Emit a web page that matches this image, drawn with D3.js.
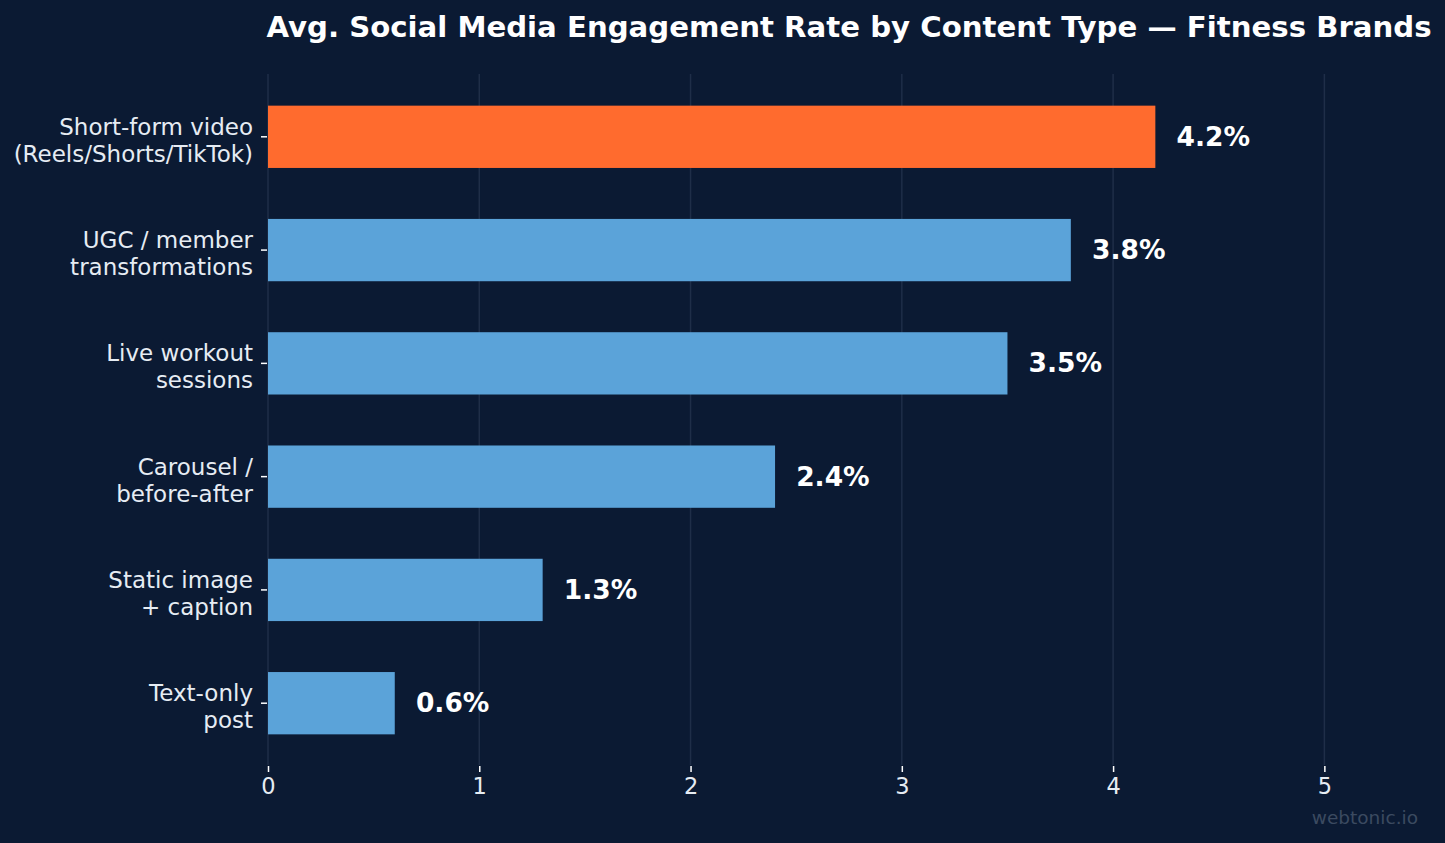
<!DOCTYPE html>
<html>
<head>
<meta charset="utf-8">
<script src="https://cdn.jsdelivr.net/npm/d3@7"></script>
<style>
  html, body { margin: 0; padding: 0; background: #0b1a33; }
  svg { display: block; font-family: "DejaVu Sans", sans-serif; }
</style>
</head>
<body>
<script>
// content types, top to bottom
var categories = [
  ['Short-form video', '(Reels/Shorts/TikTok)'],
  ['UGC / member', 'transformations'],
  ['Live workout', 'sessions'],
  ['Carousel /', 'before-after'],
  ['Static image', '+ caption'],
  ['Text-only', 'post']
];
var rates = [4.2, 3.8, 3.5, 2.4, 1.3, 0.6];
var xTicks = [0, 1, 2, 3, 4, 5];

var width = 1445, height = 843;
var m = {left: 268, right: 1430, top: 74, bottom: 765};

var svg = d3.select('body')
  .append('svg')
  .attr('width', width)
  .attr('height', height);

svg.append('rect')
  .attr('width', width)
  .attr('height', height)
  .attr('fill', '#0b1a33');

var x = d3.scaleLinear().domain([0, 5.5]).range([m.left, m.right]);
// index scale, bar 0 on top
var y = d3.scaleLinear().domain([-0.55, 5.55]).range([m.top, m.bottom]);
var barH = 0.55;

// vertical grid
svg.selectAll('line.grid')
  .data(xTicks)
  .enter()
  .append('line')
  .attr('x1', function(d) { return x(d); })
  .attr('x2', function(d) { return x(d); })
  .attr('y1', m.top)
  .attr('y2', m.bottom)
  .attr('stroke', '#1f2e48')
  .attr('stroke-width', 1.5);

// bars
svg.selectAll('rect.bar')
  .data(rates)
  .enter()
  .append('rect')
  .attr('x', x(0))
  .attr('y', function(d, i) { return y(i - barH / 2) + 0.5; })
  .attr('width', function(d) { return x(d) - x(0); })
  .attr('height', y(barH) - y(0))
  .attr('fill', function(d, i) { return i === 0 ? '#ff6b2e' : '#5ba3d9'; });

// value labels
svg.selectAll('text.val')
  .data(rates)
  .enter()
  .append('text')
  .attr('x', function(d) { return x(d + 0.1); })
  .attr('y', function(d, i) { return y(i); })
  .attr('dy', '0.36em')
  .attr('fill', '#ffffff')
  .attr('font-size', 26.5)
  .attr('font-weight', 'bold')
  .text(function(d) { return d.toFixed(1) + '%'; });

// x axis
var xAxis = svg.append('g')
  .attr('transform', 'translate(0,' + (m.bottom + 1) + ')')
  .call(d3.axisBottom(x).tickValues(xTicks).tickSize(6).tickPadding(6).tickFormat(d3.format('d')));
xAxis.select('.domain').remove();
xAxis.selectAll('line').attr('stroke', '#ffffff').attr('stroke-width', 1.5);
xAxis.selectAll('text')
  .attr('fill', '#e6ecf3')
  .attr('font-size', 22.5)
  .attr('font-family', '"DejaVu Sans", sans-serif');

// y axis, two-line labels
var yAxis = svg.append('g')
  .attr('transform', 'translate(' + (m.left - 1) + ',0)')
  .call(d3.axisLeft(y).tickValues(d3.range(categories.length)).tickSize(6).tickPadding(8).tickFormat(''));
yAxis.select('.domain').remove();
yAxis.selectAll('line').attr('stroke', '#ffffff').attr('stroke-width', 1.5);
yAxis.selectAll('.tick text')
  .attr('fill', '#e6ecf3')
  .attr('font-size', 23)
  .attr('font-family', '"DejaVu Sans", sans-serif')
  .attr('dy', null)
  .each(function(d) {
    var t = d3.select(this);
    categories[d].forEach(function(line, k) {
      t.append('tspan')
        .attr('x', -14)
        .attr('y', k === 0 ? -2 : 25)
        .text(line);
    });
  });

// title
svg.append('text')
  .attr('x', (m.left + m.right) / 2)
  .attr('y', 37)
  .attr('text-anchor', 'middle')
  .attr('fill', '#ffffff')
  .attr('font-size', 29.2)
  .attr('font-weight', 'bold')
  .text('Avg. Social Media Engagement Rate by Content Type \u2014 Fitness Brands');

// watermark
svg.append('text')
  .attr('x', 1418)
  .attr('y', 824)
  .attr('text-anchor', 'end')
  .attr('fill', '#3b4a60')
  .attr('font-size', 18.5)
  .text('webtonic.io');
</script>
</body>
</html>
